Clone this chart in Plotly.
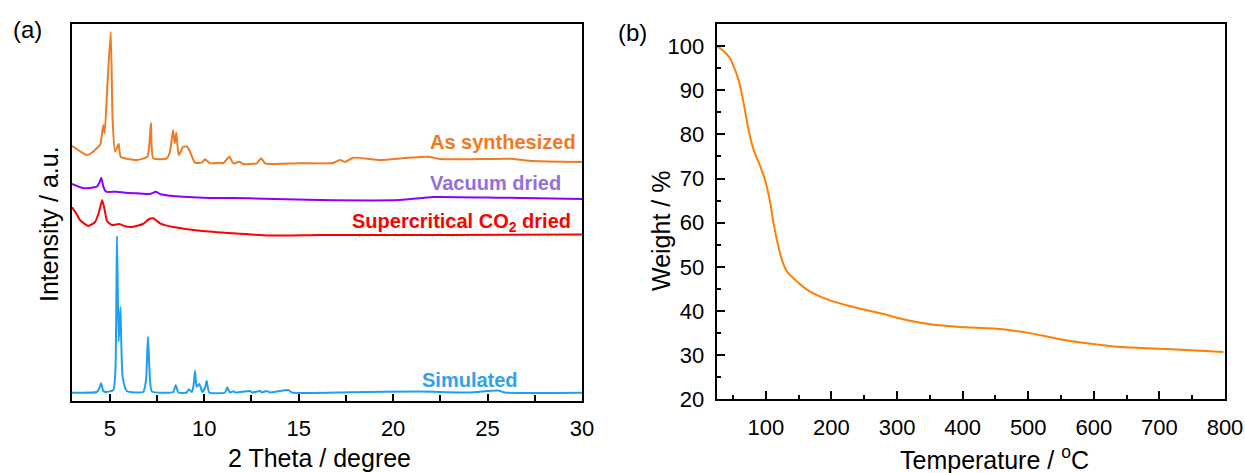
import plotly.graph_objects as go

# ---------------- Panel (a): XRD (stacked, arbitrary units) ----------------
as_syn_x = [3.00, 3.78, 3.95, 4.48, 4.66, 4.73, 4.87, 5.05, 5.15, 5.28, 5.47, 5.58, 6.43, 6.99, 7.18,
            7.30, 8.01, 8.19, 8.35, 8.44, 8.52, 8.65, 8.89, 9.10, 9.28, 9.51, 9.87, 10.04, 10.31,
            10.84, 11.01, 11.33, 11.54, 11.86, 12.07, 12.78, 13.01, 13.22, 13.48, 15.07, 16.82,
            17.19, 17.45, 17.88, 19.31, 20.63, 21.85, 22.48, 23.91, 26.19, 27.41, 30.00]
as_syn_y = [255.3, 246, 247, 256, 276, 267.7, 314.3, 369.3, 281, 249.3, 257, 244.3, 241, 244.3, 278.3,
            242.7, 242.7, 249.3, 271, 257.7, 268.3, 246, 254.3, 254.3, 247.7, 238.3, 238.3, 241.7, 237.7,
            238.3, 237.7, 244.3, 237.7, 239.3, 237, 237.7, 242.7, 237.7, 237, 237.7, 238,
            241, 239, 243.3, 241, 243, 244.3, 242, 241.7, 242.3, 240, 239]

vac_x = [3.00, 3.60, 4.31, 4.45, 4.55, 4.66, 4.80, 5.37, 5.81, 6.43, 7.13, 7.45, 7.66, 8.19, 9.95,
         12.42, 16.13, 20.36, 22.11, 25.66, 30.00]
vac_y = [217, 212.7, 214.3, 218.3, 223.3, 214.3, 209.3, 209.3, 208.3, 207.7, 207, 209.3, 207, 205.3, 203.3,
         202.7, 201, 201, 204, 203.3, 202]

sc_x = [3.00, 3.21, 3.42, 3.86, 4.22, 4.43, 4.60, 4.75, 4.85, 5.10, 5.50, 5.86, 6.25, 6.76, 7.08,
        7.30, 7.50, 7.66, 8.36, 9.78, 11.52, 13.48, 16.13, 23.01, 30.00]
sc_y = [193.7, 188, 181, 175, 179, 189, 201, 189, 180, 176, 177, 174.5, 174.3, 177, 182,
        182.7, 180, 177.7, 174, 170.3, 167.7, 165.5, 166, 166, 166.5]

sim_x = [3.00, 4.31, 4.43, 4.54, 4.66, 4.80, 5.19, 5.30, 5.38, 5.47, 5.56, 5.68, 5.90, 6.77, 6.92,
         7.02, 7.13, 7.23, 8.36, 8.49, 8.63, 9.07, 9.19, 9.34, 9.44, 9.51, 9.60, 9.74, 9.90, 10.04,
         10.13, 10.27, 11.10, 11.22, 11.36, 11.54, 11.68, 12.42, 12.53, 12.95, 13.06, 13.31, 13.48,
         14.45, 14.64, 17.72, 21.42, 24.07, 25.55, 25.92, 30.00]
sim_y = [8.3, 9, 12, 17.7, 10, 9, 11, 31, 165, 59.3, 93.7, 24.3, 10, 9, 21,
         64.3, 21, 9.5, 9, 16, 8.5, 8.5, 11.7, 9, 16, 30.3, 14.3, 17, 9, 13,
         20, 8.5, 8.5, 13.7, 8.5, 9.7, 8.5, 10, 8.5, 10, 8.5, 10, 8.5,
         11, 8.5, 8.7, 9.5, 8.5, 10.5, 8.5, 8.3]

xrd_labels = ["As synthesized", "Vacuum dried", "Supercritical CO<sub>2</sub> dried", "Simulated"]
xrd_label_x = [29.8, 29.0, 29.5, 26.7]
xrd_label_y = [259, 218, 179, 21]

# ---------------- Panel (b): TGA ----------------
tga_T = [25.3, 35.4, 44.5, 50.6, 58.2, 65.9, 73.5, 81.1, 91.3, 100.0, 106.6, 111.6, 116.8, 124.4,
         132.0, 147.3, 167.5, 198.0, 233.5, 279.3, 304.7, 350.5, 406.4, 457.2, 497.9, 548.6,
         589.3, 635.1, 711.3, 797.6]
tga_W = [100.0, 98.9, 97.4, 95.5, 92.4, 87.2, 81.1, 76.6, 72.8, 69.0, 64.5, 59.9, 56.1, 51.6,
         49.0, 46.7, 44.4, 42.4, 40.9, 39.3, 38.3, 37.0, 36.3, 35.9, 35.1, 33.6,
         32.7, 31.9, 31.4, 30.7]

FONT = "Liberation Sans, Arial, sans-serif"
C_ORANGE = "#F07A22"
C_PURPLE = "#8C00FF"
C_PURPLE_T = "#9370DB"
C_RED = "#FF0000"
C_BLUE = "#1E9FF2"
C_BLUE_T = "#2FA3EA"
C_TGA = "#FF8000"

fig = go.Figure()
for xs, ys, c in [(as_syn_x, as_syn_y, C_ORANGE), (vac_x, vac_y, C_PURPLE),
                  (sc_x, sc_y, C_RED), (sim_x, sim_y, C_BLUE)]:
    fig.add_trace(go.Scatter(x=xs, y=ys, mode="lines",
                             line=dict(color=c, width=2, shape="spline", smoothing=0.5),
                             xaxis="x", yaxis="y", showlegend=False))
fig.add_trace(go.Scatter(x=tga_T, y=tga_W, mode="lines", line=dict(color=C_TGA, width=2, shape="spline"),
                         xaxis="x2", yaxis="y2", showlegend=False))

ann = []
for t, lx, ly, c in zip(xrd_labels, xrd_label_x, xrd_label_y, [C_ORANGE, C_PURPLE_T, C_RED, C_BLUE_T]):
    ann.append(dict(x=lx, y=ly, xref="x", yref="y", text="<b>" + t + "</b>", showarrow=False,
                    xanchor="right", yanchor="middle", font=dict(family=FONT, size=20, color=c)))

W, H = 1245, 473
L, R, T, B = 72, 20, 24, 72
pw, ph = W - L - R, H - T - B
def px(xp): return (xp - L) / pw
def py(yp): return (H - B - yp) / ph

TF = dict(family=FONT, size=25, color="black")
ann += [
    dict(x=px(319), y=py(458), xref="paper", yref="paper", text="2 Theta / degree", showarrow=False,
         xanchor="center", yanchor="middle", font=TF),
    dict(x=px(994), y=py(458), xref="paper", yref="paper", text="Temperature / <sup>o</sup>C", showarrow=False,
         xanchor="center", yanchor="middle", font=TF),
    dict(x=px(49), y=py(224), xref="paper", yref="paper", text="Intensity / a.u.", showarrow=False,
         textangle=-90, xanchor="center", yanchor="middle", font=TF),
    dict(x=px(661), y=py(231), xref="paper", yref="paper", text="Weight / %", showarrow=False,
         textangle=-90, xanchor="center", yanchor="middle", font=TF),
    dict(x=px(27), y=py(29), xref="paper", yref="paper", text="(a)", showarrow=False,
         xanchor="center", yanchor="middle", font=dict(family=FONT, size=24, color="black")),
    dict(x=px(632), y=py(32), xref="paper", yref="paper", text="(b)", showarrow=False,
         xanchor="center", yanchor="middle", font=dict(family=FONT, size=24, color="black")),
]

axis_common = dict(showline=True, linecolor="black", linewidth=2, mirror=True, showgrid=False,
                   zeroline=False, automargin=False, tickfont=dict(family=FONT, size=22, color="black"))

fig.update_layout(
    width=W, height=H, margin=dict(l=L, r=R, t=T, b=B, autoexpand=False),
    paper_bgcolor="white", plot_bgcolor="white", showlegend=False,
    xaxis=dict(domain=[0, px(582)], range=[3, 30], tickvals=[5, 10, 15, 20, 25, 30], ticks="inside",
               ticklen=7, tickwidth=1.5, tickcolor="black", ticklabelstandoff=7,
               minor=dict(ticks="inside", ticklen=6, tickwidth=1.5, tickcolor="black", dtick=2.5, tick0=0),
               anchor="y", **axis_common),
    yaxis=dict(domain=[0, 1], range=[0, 377], showticklabels=False, ticks="", anchor="x", **axis_common),
    xaxis2=dict(domain=[px(716.7), 1], range=[25, 800], tick0=0, dtick=100, ticks="inside",
                ticklen=8, tickwidth=1.5, tickcolor="black", ticklabelstandoff=7,
                minor=dict(ticks="inside", ticklen=4.5, tickwidth=1.5, tickcolor="black", dtick=50, tick0=0),
                anchor="y2", **axis_common),
    yaxis2=dict(domain=[py(399.3), 1], range=[20, 105], tick0=0, dtick=10, ticks="inside",
                ticklen=8, tickwidth=1.5, tickcolor="black", ticklabelstandoff=6,
                minor=dict(ticks="inside", ticklen=4.5, tickwidth=1.5, tickcolor="black", dtick=5, tick0=0),
                anchor="x2", **axis_common),
    annotations=ann,
)

fig.write_html("out.html")
